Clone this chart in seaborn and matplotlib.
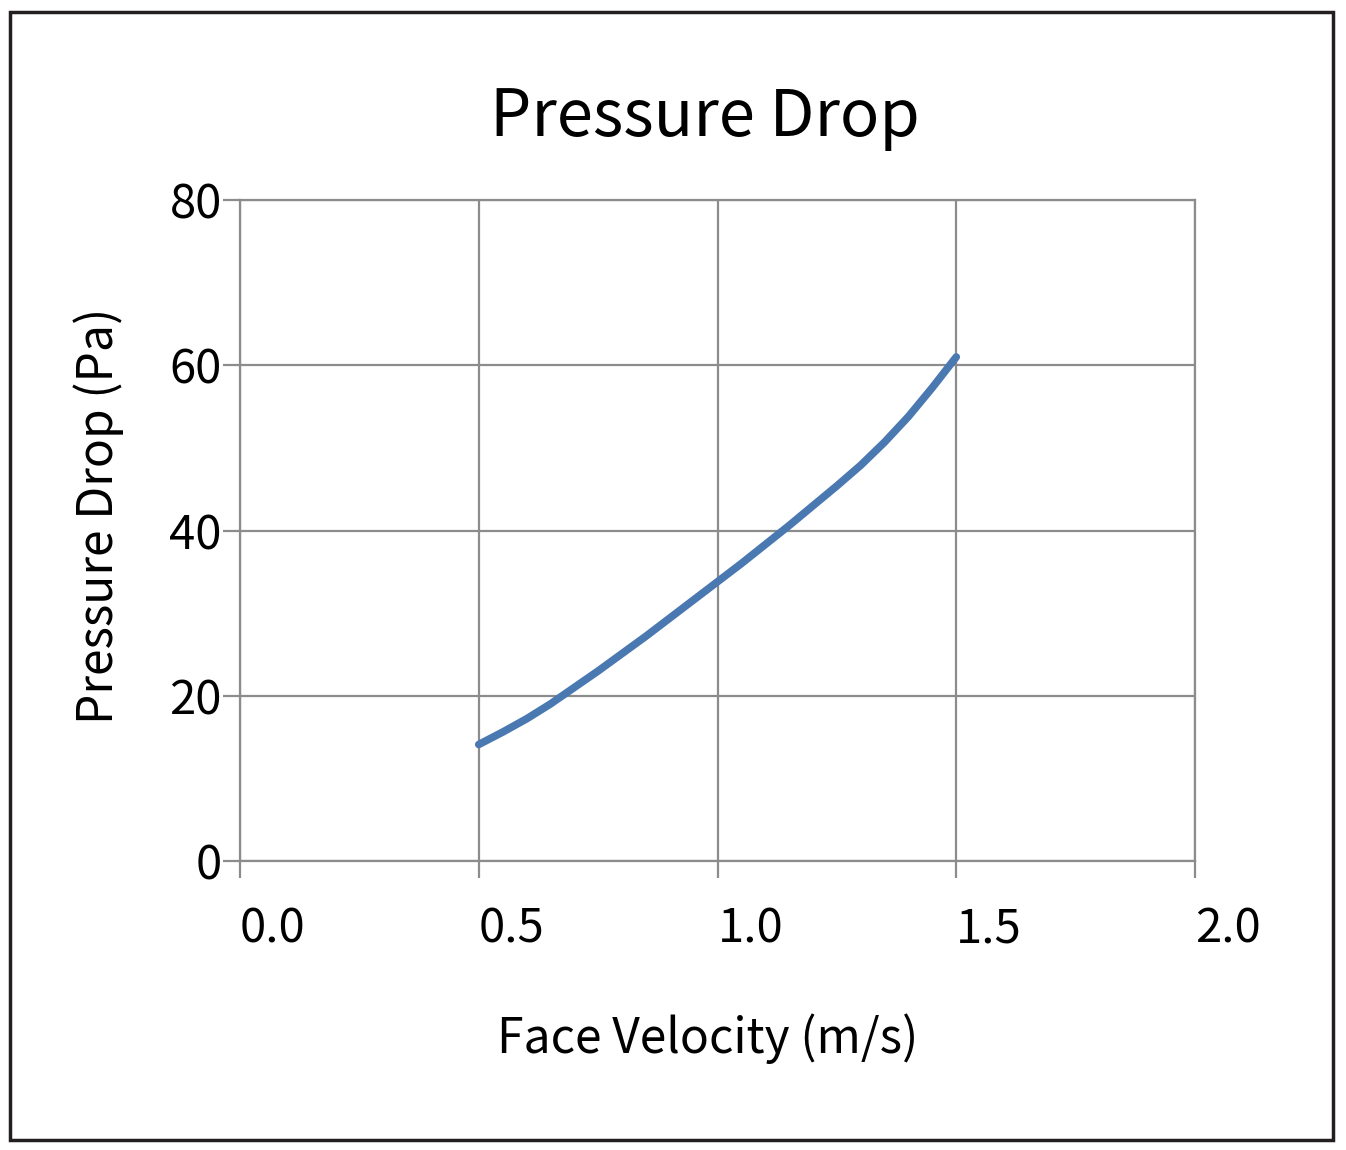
import matplotlib
matplotlib.use("Agg")
import matplotlib.pyplot as plt
import matplotlib.transforms as mtransforms
import pandas as pd
import seaborn as sns

# Data
velocity = [0.5, 0.55, 0.6, 0.65, 0.7, 0.75, 0.8, 0.85, 0.9, 0.95, 1.0,
            1.05, 1.1, 1.15, 1.2, 1.25, 1.3, 1.35, 1.4, 1.45, 1.5]
pressure = [14.1, 15.6, 17.2, 19.0, 21.0, 23.0, 25.1, 27.2, 29.4, 31.6, 33.8,
            36.0, 38.3, 40.6, 43.0, 45.4, 47.9, 50.7, 53.8, 57.3, 61.0]
x_ticks = [0.0, 0.5, 1.0, 1.5, 2.0]
x_tick_labels = ["0.0", "0.5", "1.0", "1.5", "2.0"]
y_ticks = [0, 20, 40, 60, 80]

df = pd.DataFrame({"Face Velocity (m/s)": velocity, "Pressure Drop (Pa)": pressure})

sns.set_style("white")
plt.rcParams['font.family'] = ['Noto Sans CJK JP', 'DejaVu Sans']
plt.rcParams['text.color'] = 'black'
plt.rcParams['axes.labelcolor'] = 'black'

grid_c = "#8c8c8c"
fig = plt.figure(figsize=(13.46, 11.5), dpi=100)
ax = fig.add_axes([240/1346, 289/1150, 955/1346, 661/1150])

sns.lineplot(data=df, x="Face Velocity (m/s)", y="Pressure Drop (Pa)", ax=ax,
             color="#4a78b1", linewidth=5.5, solid_capstyle="round",
             solid_joinstyle="round", zorder=3)

ax.set_xlim(0, 2.0)
ax.set_ylim(0, 80)
ax.set_xticks(x_ticks)
ax.set_xticklabels(x_tick_labels)
ax.set_yticks(y_ticks)
ax.grid(True, color=grid_c, linewidth=1.6)
for s in ax.spines.values():
    s.set_color(grid_c)
    s.set_linewidth(1.6)
ax.tick_params(axis="both", bottom=True, left=True, direction="out",
               colors=grid_c, width=1.6, length=12, labelcolor="black")
ax.tick_params(axis="y", labelsize=34, pad=1)
ax.tick_params(axis="x", labelsize=34, pad=20)

# shift x tick labels to the right like the source
offset = mtransforms.ScaledTranslation(0.33, 0, fig.dpi_scale_trans)
for lbl in ax.get_xticklabels():
    lbl.set_transform(lbl.get_transform() + offset)

ax.set_xlabel("Face Velocity (m/s)", fontsize=34.5, color="black")
ax.set_ylabel("Pressure Drop (Pa)", fontsize=34.5, color="black")
ax.xaxis.set_label_coords(0.49, -0.231)
ax.yaxis.set_label_coords(-0.121, 0.522)
ax.set_title("Pressure Drop", fontsize=47, pad=46, color="black")
ax.title.set_position((0.487, 1.0))

# outer frame
fig.patches.append(plt.Rectangle((10/1346, 10/1150), 1323/1346, 1128/1150,
                                 transform=fig.transFigure, fill=False,
                                 edgecolor="#231f20", linewidth=2.5))

fig.savefig("out.png", dpi=100)
